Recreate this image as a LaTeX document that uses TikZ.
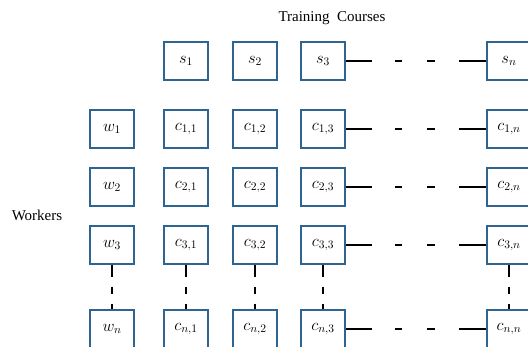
\documentclass[tikz,border=0pt]{standalone}
\usepackage{fix-cm}
\usepackage{fontspec}
\setmainfont{Liberation Serif}

\definecolor{boxblue}{RGB}{46,100,145}

\begin{document}
\begin{tikzpicture}[x=1pt,y=-1pt,
        cell/.style={draw=boxblue, line width=1.5pt, minimum width=44pt, minimum height=38pt, inner sep=0pt, font=\fontsize{16.5}{18}\selectfont},
        hlink/.style={line width=1.5pt, dash pattern=on 26pt off 23pt on 7pt off 25pt on 8pt off 24pt on 30pt},
        vlink/.style={line width=1.5pt, dash pattern=on 12pt off 10pt on 7pt off 10pt on 8pt}]
        \clip (0,0) rectangle (528,347);

        % titles
        \node (title) at (332,18) {\fontsize{15}{17}\selectfont Training\ \ Courses};
        \node (workers) at (37,215) {\fontsize{15}{17}\selectfont Workers};

        % training courses
        \node[cell] (s1) at (186,61) {$s_1$};
        \node[cell] (s2) at (255,61) {$s_2$};
        \node[cell] (s3) at (323,61) {$s_3$};
        \node[cell] (sn) at (509,61) {$s_n$};

        % workers and costs
        \foreach \r/\y in {1/129, 2/187, 3/245, n/329} {
            \node[cell] (w\r) at (112,\y) {$w_\r$};
            \node[cell] (c\r1) at (186,\y) {$c_{\r,1}$};
            \node[cell] (c\r2) at (255,\y) {$c_{\r,2}$};
            \node[cell] (c\r3) at (323,\y) {$c_{\r,3}$};
            \node[cell] (c\r n) at (509,\y) {$c_{\r,n}$};
        }

        % dotted gaps
        \draw[hlink] (s3.east) -- (sn.west);
        \foreach \r in {1,2,3,n} {
            \draw[hlink] (c\r3.east) -- (c\r n.west);
        }
        \draw[vlink] (w3.south) -- (wn.north);
        \draw[vlink] (c31.south) -- (cn1.north);
        \draw[vlink] (c32.south) -- (cn2.north);
        \draw[vlink] (c33.south) -- (cn3.north);
        \draw[vlink] (c3n.south) -- (cnn.north);
\end{tikzpicture}
\end{document}
